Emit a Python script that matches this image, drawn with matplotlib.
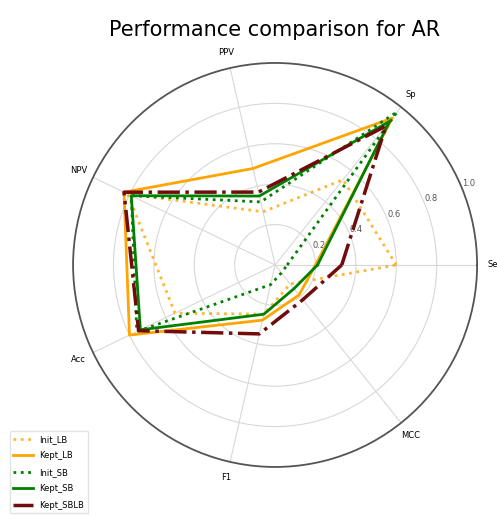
import numpy as np
import matplotlib
matplotlib.use("Agg")
import matplotlib.pyplot as plt

# metrics on the spokes, counter-clockwise from the right
labels = ["Se", "Sp", "PPV", "NPV", "Acc", "F1", "MCC"]

init_lb = [0.60, 0.54, 0.27, 0.81, 0.55, 0.25, 0.12]
kept_lb = [0.20, 0.93, 0.49, 0.83, 0.80, 0.28, 0.19]
init_sb = [0.06, 0.97, 0.32, 0.79, 0.76, 0.10, 0.05]
kept_sb = [0.21, 0.91, 0.35, 0.79, 0.74, 0.25, 0.15]
kept_sblb = [0.33, 0.88, 0.37, 0.83, 0.75, 0.35, 0.22]

r_ticks = [0.2, 0.4, 0.6, 0.8, 1.0]

angles = np.linspace(0, 2 * np.pi, len(labels), endpoint=False)


def closed(vals):
    return np.concatenate([vals, vals[:1]])


ang = closed(angles)

fig = plt.figure(figsize=(4.97, 5.16), dpi=100)
ax = fig.add_axes([0.147, 0.095, 0.813, 0.783], projection="polar")

ax.plot(ang, closed(init_lb), color="orange", linestyle=":", linewidth=2, alpha=0.8, label="Init_LB")
ax.plot(ang, closed(kept_lb), color="orange", linestyle="-", linewidth=2, label="Kept_LB")
ax.plot(ang, closed(init_sb), color="green", linestyle=":", linewidth=2, label="Init_SB")
ax.plot(ang, closed(kept_sb), color="green", linestyle="-", linewidth=2, label="Kept_SB")
ax.plot(ang, closed(kept_sblb), color="#700c0c", linestyle="-.", linewidth=2.5, label="Kept_SBLB")

ax.set_ylim(0, 1.0)
ax.set_yticks(r_ticks)
ax.set_yticklabels([f"{t:.1f}" for t in r_ticks], fontsize=6, color="#555555")
ax.set_thetagrids(np.degrees(angles), labels, fontsize=6)
ax.tick_params(axis="x", pad=1)
ax.grid(color="#d8d8d8", linewidth=0.8)
ax.spines["polar"].set_color("#555555")
ax.spines["polar"].set_linewidth(1.3)

fig.text(0.553, 0.942, "Performance comparison for AR", ha="center", va="center", fontsize=15)

fig.legend(loc="upper left", bbox_to_anchor=(0.012, 0.172), fontsize=6,
           frameon=True, edgecolor="#dddddd", labelspacing=0.9, handlelength=2.3,
           fancybox=False, borderpad=0.4)

fig.savefig("out.png", dpi=100)
